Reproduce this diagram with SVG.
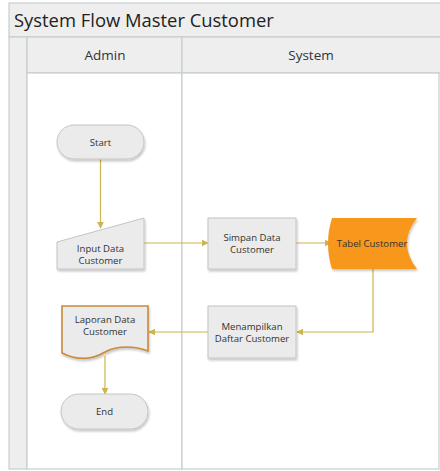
<svg xmlns="http://www.w3.org/2000/svg" width="440" height="471" viewBox="0 0 440 471">
  <defs>
    <filter id="shadow" x="-10%" y="-10%" width="130%" height="140%">
      <feDropShadow dx="1" dy="2" stdDeviation="1" flood-color="#000" flood-opacity="0.22"/>
    </filter>
    <marker id="arrow" viewBox="0 0 10 10" refX="9" refY="5" markerWidth="7" markerHeight="7" orient="auto" markerUnits="userSpaceOnUse">
      <path d="M0,0 L10,5 L0,10 Z" fill="#CDB44E"/>
    </marker>
  </defs>
  <style>
    .band { fill: #EEEEEE; stroke: #C6CECD; stroke-width: 1.2; }
    .lane { fill: #FFFFFF; stroke: #C6CECD; stroke-width: 1.2; }
    .title { font-family: "Open Sans", "Noto Sans", sans-serif; font-size: 18.4px; fill: #222; }
    .head { font-family: "Open Sans", "Noto Sans", sans-serif; font-size: 13.5px; fill: #333; text-anchor: middle; }
    .node { fill: #EBEBEB; stroke: #C4C4C4; stroke-width: 1; filter: url(#shadow); }
    .label { font-family: "Open Sans", "Noto Sans", sans-serif; font-size: 9.6px; fill: #333; text-anchor: middle; }
    .edge { fill: none; stroke: #CDB44E; stroke-width: 1.2; marker-end: url(#arrow); }
  </style>

  <rect width="440" height="471" fill="#FFFFFF"/>

  <!-- pool frame -->
  <g id="pool">
    <rect class="band" x="9" y="3" width="432" height="34"/>
    <text class="title" x="14" y="27">System Flow Master Customer</text>
    <rect class="band" x="9" y="37" width="18" height="432"/>
    <rect class="band" x="27" y="37" width="155" height="36"/>
    <rect class="band" x="182" y="37" width="259" height="36"/>
    <text class="head" x="105" y="60">Admin</text>
    <text class="head" x="311" y="60">System</text>
    <rect class="lane" x="27" y="73" width="155" height="396"/>
    <rect class="lane" x="182" y="73" width="257" height="396"/>
  </g>

  <!-- connectors -->
  <g id="connectors">
    <path class="edge" d="M100.5,159 V228"/>
    <path class="edge" d="M144,243 H208"/>
    <path class="edge" d="M296,243 H331"/>
    <path class="edge" d="M373,269 V332 H297"/>
    <path class="edge" d="M208,332 H149"/>
    <path class="edge" d="M105,356 V394"/>
  </g>

  <g id="start">
    <rect class="node" x="57" y="125" width="87" height="34" rx="17"/>
    <text class="label" x="100.5" y="145.5">Start</text>
  </g>

  <g id="input-data">
    <path class="node" d="M57,242 L144,218 L144,269 L57,269 Z"/>
    <text class="label" x="100.5" y="252">Input Data</text>
    <text class="label" x="100.5" y="264">Customer</text>
  </g>

  <g id="simpan-data">
    <rect class="node" x="208" y="218" width="88" height="51"/>
    <text class="label" x="252" y="241">Simpan Data</text>
    <text class="label" x="252" y="253">Customer</text>
  </g>

  <g id="tabel-customer">
    <path d="M332,218 L417,218 Q397,243.5 417,269 L332,269 Q324,243.5 332,218 Z" fill="#F7971F" filter="url(#shadow)"/>
    <text class="label" x="372" y="247" fill="#3A2A10">Tabel Customer</text>
  </g>

  <g id="menampilkan">
    <rect class="node" x="208" y="306" width="88" height="52"/>
    <text class="label" x="252" y="330">Menampilkan</text>
    <text class="label" x="252" y="342">Daftar Customer</text>
  </g>

  <g id="laporan">
    <path class="node" style="stroke:#C98A3A;stroke-width:1.6" d="M62,306 H148 V351 C135,346 118,345 105,352 C95,358 80,362 62,353 Z"/>
    <text class="label" x="105" y="323">Laporan Data</text>
    <text class="label" x="105" y="335">Customer</text>
  </g>

  <g id="end">
    <rect class="node" x="61" y="394" width="87" height="35" rx="17.5"/>
    <text class="label" x="104.5" y="415">End</text>
  </g>
</svg>
